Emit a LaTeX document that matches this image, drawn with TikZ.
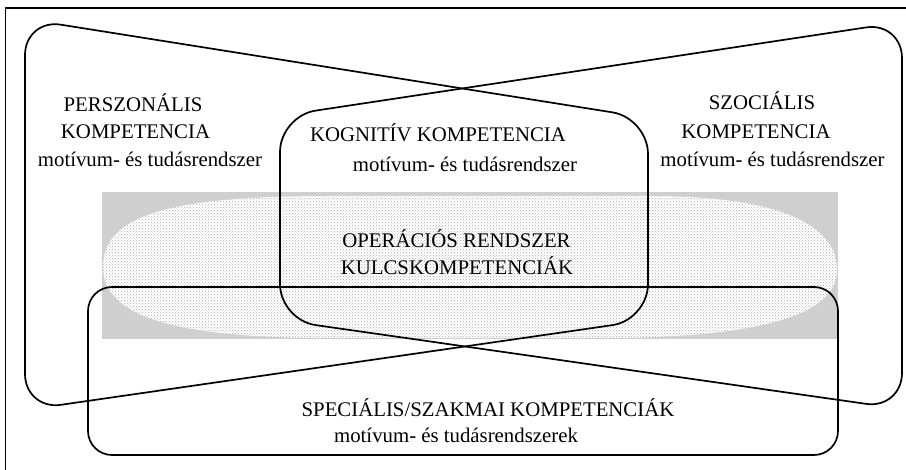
\documentclass[tikz,border=0pt]{standalone}
\usepackage{fontspec}
\setmainfont{Liberation Serif}
\usetikzlibrary{patterns}
\definecolor{bandgray}{gray}{0.81}

\begin{document}
\begin{tikzpicture}[x=1pt,y=-1pt,line join=round,
                    blob/.style={draw,line width=1.7pt,rounded corners=36pt},
                    lbl/.style={anchor=base,inner sep=0pt,font=\fontsize{20.8}{24}\selectfont}]
	\useasboundingbox (0,0) rectangle (906,470);
	\fill[bandgray]		(102,192) rectangle (838,339);
	\path[pattern=crosshatch dots,pattern color=gray!65,preaction={fill=white}]
		(103,267) .. controls (103,215) and (170,196) .. (330,196) -- (650,196)
		.. controls (780,196) and (837,225) .. (837,270)
		.. controls (837,315) and (760,338) .. (600,338) -- (330,338)
		.. controls (170,338) and (103,315) .. (103,267) -- cycle;
	\draw[line width=1.8pt]	(5.5,470) -- (5.5,8) -- (906,8);
	\draw[blob]		(25,200) -- (25,19) -- (648,118) -- (648,320) -- (25,410) -- cycle;
	\draw[blob]		(902,200) -- (902,22) -- (280,116) -- (280,320) -- (902,409) -- cycle;
	\draw[blob,rounded corners=24pt]	(88,287) rectangle (838,455);
	\node[lbl]	(pers1)	at (133,112)	{PERSZONÁLIS};
	\node[lbl]	(pers2)	at (135.5,139)	{KOMPETENCIA};
	\node[lbl]	(pers3)	at (150,167)	{motívum- és tudásrendszer};
	\node[lbl]	(szoc1)	at (762,110)	{SZOCIÁLIS};
	\node[lbl]	(szoc2)	at (756,139)	{KOMPETENCIA};
	\node[lbl]	(szoc3)	at (772.5,167)	{motívum- és tudásrendszer};
	\node[lbl]	(kogn1)	at (438,142)	{KOGNITÍV KOMPETENCIA};
	\node[lbl]	(kogn2)	at (465,172)	{motívum- és tudásrendszer};
	\node[lbl]	(oper1)	at (456.5,248)	{OPERÁCIÓS RENDSZER};
	\node[lbl]	(oper2)	at (457,275)	{KULCSKOMPETENCIÁK};
	\node[lbl]	(spec1)	at (488,417)	{SPECIÁLIS/SZAKMAI KOMPETENCIÁK};
	\node[lbl]	(spec2)	at (456,443)	{motívum- és tudásrendszerek};
\end{tikzpicture}
\end{document}
